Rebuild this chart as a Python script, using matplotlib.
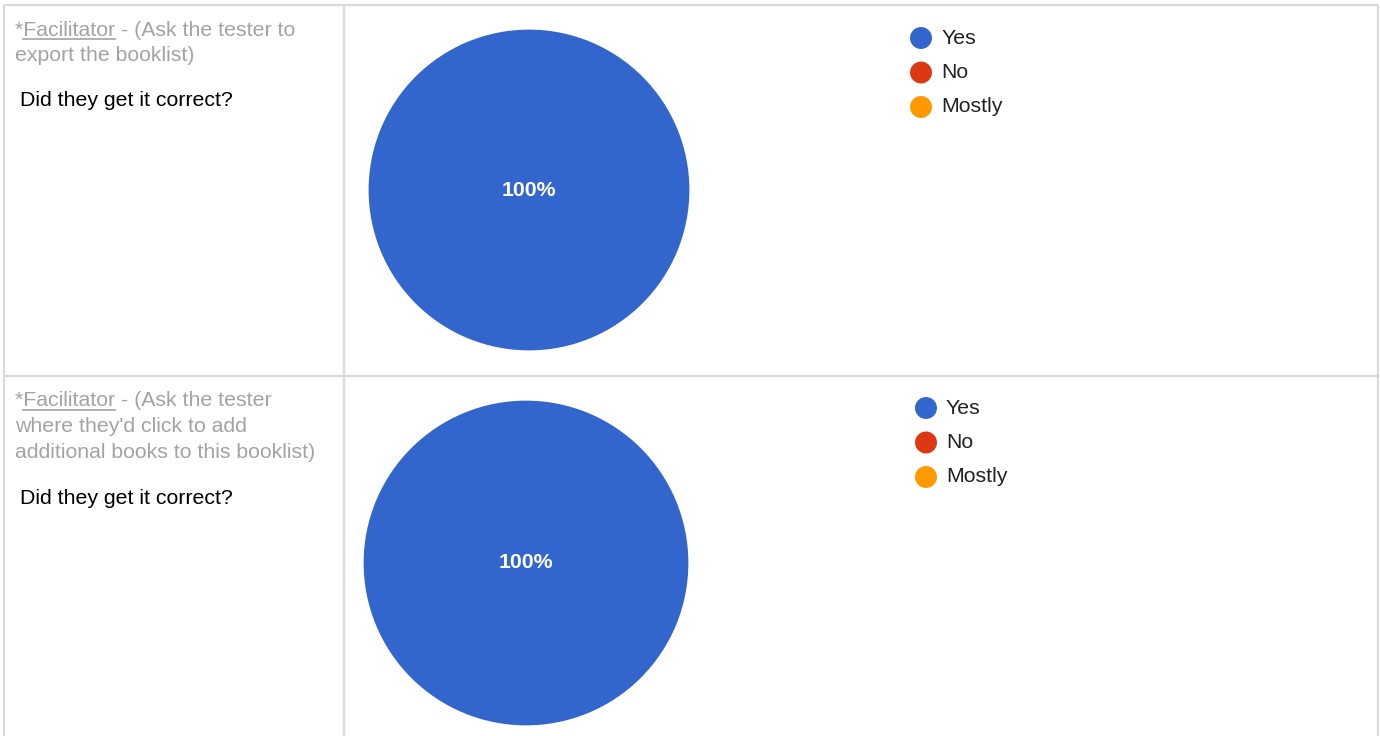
import matplotlib
matplotlib.use('Agg')
import matplotlib.pyplot as plt

plt.rcParams['font.family'] = ['Liberation Sans', 'DejaVu Sans']

# data
categories = ['Yes', 'No', 'Mostly']
colors = ['#3366cc', '#dc3912', '#ff9900']
q1_values = [100, 0, 0]
q2_values = [100, 0, 0]
q1_note = ['*Facilitator - (Ask the tester to', 'export the booklist)']
q2_note = ['*Facilitator - (Ask the tester', "where they'd click to add",
           'additional books to this booklist)']
question = 'Did they get it correct?'

W, H = 1380, 736
FS = 15.3
GRAY = '#a3a3a3'
BORDER = '#dadada'

fig = plt.figure(figsize=(W / 100, H / 100), dpi=100)
fig.patch.set_facecolor('white')

# overlay axes in pixel coordinates
ov = fig.add_axes([0, 0, 1, 1])
ov.set_xlim(0, W)
ov.set_ylim(H, 0)
ov.axis('off')

# table borders
for seg in [((4, 4), (5, H)), ((1378, 1378), (5, H)), ((344, 344), (5, H)),
            ((4, 1378), (5, 5)), ((4, 1378), (376, 376))]:
    ov.plot(seg[0], seg[1], color=BORDER, lw=1.6, solid_capstyle='butt')

renderer = fig.canvas.get_renderer()


def text_width(s):
    t = ov.text(0, 0, s, fontsize=FS)
    bb = t.get_window_extent(renderer)
    t.remove()
    return bb.width


def note(lines, x, y0, dy):
    for i, line in enumerate(lines):
        ov.text(x, y0 + i * dy, line, fontsize=FS, color=GRAY, va='center')
    # underline under "Facilitator"
    x1 = x + text_width('*')
    x2 = x + text_width('*Facilitator')
    ov.plot([x1, x2], [y0 + 8.5, y0 + 8.5], color=GRAY, lw=1.2)


note(q1_note, 15, 30, 25.5)
ov.text(20, 101, question, fontsize=FS, color='black', va='center')
note(q2_note, 15, 401, 26)
ov.text(20, 498, question, fontsize=FS, color='black', va='center')


def pie(values, cx, cy, r):
    ax = fig.add_axes([(cx - r) / W, 1 - (cy + r) / H, 2 * r / W, 2 * r / H])
    ax.pie(values, colors=colors, startangle=90, counterclock=False,
           wedgeprops=dict(linewidth=0),
           autopct=lambda p: f'{p:.0f}%' if p > 0 else '',
           pctdistance=0.0,
           textprops=dict(color='white', fontsize=FS, fontweight='bold'))
    ax.set_xlim(-1.01, 1.01)
    ax.set_ylim(-1.01, 1.01)
    ax.set_aspect('equal')
    ax.axis('off')


pie(q1_values, 529, 190, 162)
pie(q2_values, 526, 563, 164)


def legend(x, y0, dy):
    for i, (cat, col) in enumerate(zip(categories, colors)):
        ov.scatter(x, y0 + i * dy, s=250, color=col, edgecolors='none')
        ov.text(x + 20, y0 + i * dy, cat, fontsize=FS, color='#222222',
                va='center')


legend(921, 38, 34.5)
legend(926, 408, 34.5)

fig.savefig('out.png', dpi=100, facecolor='white')
